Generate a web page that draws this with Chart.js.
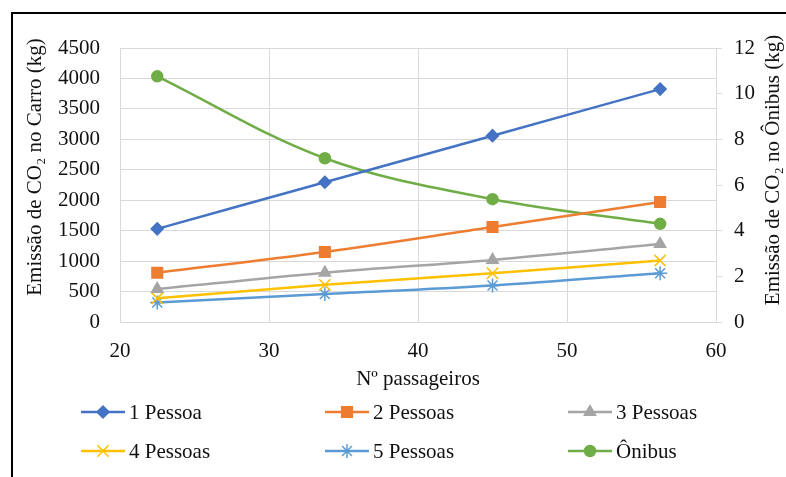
<!DOCTYPE html>
<html lang="pt">
<head>
<meta charset="UTF-8">
<title>Emissão de CO2 – Carro x Ônibus</title>
<script src="https://cdn.jsdelivr.net/npm/chart.js"></script>
<style>
  body { margin: 0; background: #fff; }
  #wrap { position: relative; width: 786px; height: 477px; overflow: hidden; }
  #frame { position: absolute; left: 11px; top: 12px; width: 800px; height: 500px;
           border-top: 2px solid #000; border-left: 2px solid #000; }
  canvas { position: absolute; left: 0; top: 0; }
</style>
</head>
<body>
<div id="wrap">
  <div id="frame"></div>
  <canvas id="grafico" width="786" height="477"></canvas>
</div>
<script>
// dados
const passageiros = [22.5, 33.75, 45, 56.25];
const pessoa1 = [1530, 2295, 3060, 3825];
const pessoa2 = [810, 1150, 1560, 1970];
const pessoa3 = [540, 810, 1020, 1280];
const pessoa4 = [390, 610, 800, 1010];
const pessoa5 = [320, 460, 600, 800];
const onibus = [10.76, 7.17, 5.38, 4.30];

const xTicks = [20, 30, 40, 50, 60];
const tituloEsq = "Emissão de CO₂ no Carro (kg)";
const tituloDir = "Emissão de CO₂ no Ônibus (kg)";
const tituloX = "Nº passageiros";

const FONTE = '"Liberation Serif", "Times New Roman", serif';
const TAM = 21;
const GRADE = "#d9d9d9";
const TEXTO = "#111";

function pontos(ys) {
  return passageiros.map((x, i) => ({ x: x, y: ys[i] }));
}

function serie(label, ys, cor, estilo, raio, eixo) {
  return {
    label: label,
    data: pontos(ys),
    yAxisID: eixo || "y",
    borderColor: cor,
    backgroundColor: cor,
    pointBorderColor: cor,
    pointBackgroundColor: cor,
    pointStyle: estilo,
    pointRadius: raio,
    pointHoverRadius: raio,
    pointBorderWidth: 1.5,
    borderWidth: 2.5,
    tension: 0.35,
    fill: false
  };
}

const datasets = [
  serie("1 Pessoa", pessoa1, "#4472C4", "rectRot", 6),
  serie("2 Pessoas", pessoa2, "#ED7D31", "rect", 7.5),
  serie("3 Pessoas", pessoa3, "#A5A5A5", "triangle", 6.5),
  serie("4 Pessoas", pessoa4, "#FFC000", "crossRot", 8),
  serie("5 Pessoas", pessoa5, "#5B9BD5", "star", 7),
  serie("Ônibus", onibus, "#70AD47", "circle", 5.5, "y2")
];

// posição da legenda (3 colunas x 2 linhas)
const legendaPos = [[81, 412], [325, 412], [568, 412], [81, 451], [325, 451], [568, 451]];

const extras = {
  id: "extras",
  afterDraw(chart) {
    const ctx = chart.ctx;
    ctx.save();
    ctx.font = TAM + "px " + FONTE;
    ctx.fillStyle = TEXTO;
    ctx.textAlign = "center";
    ctx.textBaseline = "middle";
    // títulos dos eixos y, lidos de baixo para cima
    ctx.save();
    ctx.translate(35, 167);
    ctx.rotate(-Math.PI / 2);
    ctx.fillText(tituloEsq, 0, 0);
    ctx.restore();
    ctx.save();
    ctx.translate(773, 170);
    ctx.rotate(-Math.PI / 2);
    ctx.fillText(tituloDir, 0, 0);
    ctx.restore();

    // legenda
    ctx.textAlign = "left";
    chart.data.datasets.forEach((ds, i) => {
      const [lx, ly] = legendaPos[i];
      ctx.strokeStyle = ds.borderColor;
      ctx.lineWidth = 2.5;
      ctx.beginPath();
      ctx.moveTo(lx, ly);
      ctx.lineTo(lx + 44, ly);
      ctx.stroke();
      ctx.fillStyle = ds.pointBackgroundColor;
      ctx.strokeStyle = ds.pointBorderColor;
      ctx.lineWidth = ds.pointBorderWidth;
      Chart.helpers.drawPoint(ctx, {
        pointStyle: ds.pointStyle, radius: ds.pointRadius, rotation: 0, borderWidth: ds.pointBorderWidth
      }, lx + 22, ly);
      ctx.fillStyle = TEXTO;
      ctx.fillText(ds.label, lx + 48, ly + 1);
    });
    ctx.restore();
  }
};

const semMilhar = (v) => String(v);

new Chart(document.getElementById("grafico"), {
  type: "line",
  data: { datasets },
  plugins: [extras],
  options: {
    responsive: false,
    animation: false,
    layout: { padding: { left: 0, right: 0, top: 48, bottom: 85 } },
    plugins: { legend: { display: false }, tooltip: { enabled: false } },
    scales: {
      x: {
        type: "linear",
        min: 20, max: 60,
        afterBuildTicks: (s) => { s.ticks = xTicks.map(v => ({ value: v })); },
        afterFit: (s) => { s.height = 70; },
        grid: { color: GRADE, drawTicks: false },
        border: { color: GRADE },
        ticks: { font: { family: FONTE, size: TAM }, color: TEXTO, padding: 17, callback: semMilhar },
        title: { display: true, text: tituloX, font: { family: FONTE, size: TAM }, color: TEXTO, padding: { top: 0, bottom: 0 } }
      },
      y: {
        position: "left",
        min: 0, max: 4500,
        afterFit: (s) => { s.width = 120; },
        grid: { color: GRADE, drawTicks: false },
        border: { color: GRADE },
        ticks: { stepSize: 500, font: { family: FONTE, size: TAM }, color: TEXTO, padding: 20, callback: semMilhar }
      },
      y2: {
        position: "right",
        min: 0, max: 12,
        afterFit: (s) => { s.width = 70; },
        grid: { color: GRADE, drawOnChartArea: false, tickLength: 6 },
        border: { color: GRADE },
        ticks: { stepSize: 2, font: { family: FONTE, size: TAM }, color: TEXTO, padding: 12, callback: semMilhar }
      }
    }
  }
});
</script>
</body>
</html>
